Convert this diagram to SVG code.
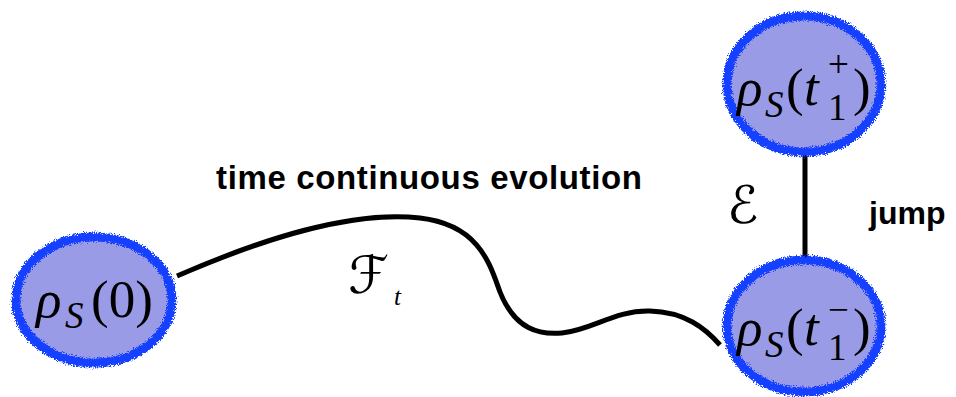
<svg xmlns="http://www.w3.org/2000/svg" width="956" height="397" viewBox="0 0 956 397">
  <style>
    .fill { fill: #999be6; stroke: none; }
    .rim { fill: none; stroke: #1340ff; stroke-width: 9; filter: url(#rough); }
    .lbl { font-family: "Liberation Serif", "Times New Roman", serif; font-size: 53px; fill: #000; }
    .it { font-style: italic; }
    .sub { font-size: 37px; }
    .small { font-size: 25px; }
    .bold { font-family: "Liberation Sans", Arial, sans-serif; font-weight: bold; fill: #000; }
    .script { font-family: "DejaVu Serif", "DejaVu Sans", serif; font-size: 52px; fill: #000; }
    .edge { fill: none; stroke: #000; stroke-width: 5; stroke-linecap: butt; }
  </style>
  <defs>
    <filter id="rough" x="-15%" y="-15%" width="130%" height="130%">
      <feTurbulence type="fractalNoise" baseFrequency="0.9" numOctaves="2" seed="4" result="n"/>
      <feDisplacementMap in="SourceGraphic" in2="n" scale="7" xChannelSelector="R" yChannelSelector="G"/>
    </filter>
  </defs>
  <rect width="956" height="397" fill="#fff"/>

  <g id="connectors">
    <path class="edge" d="M177,276 C260,240 350,210 420,218 C480,225 490,265 500,292 C515,330 540,335 562,333 C592,330 615,310 650,311 C685,312 705,328 720,345"/>
    <line class="edge" x1="805" y1="152" x2="805" y2="260"/>
  </g>

  <g id="node-rho0">
    <ellipse class="fill" cx="94" cy="300" rx="80" ry="65"/>
    <ellipse class="rim" cx="94" cy="300" rx="78" ry="63"/>
    <text class="lbl" y="317"><tspan class="it" x="36">ρ</tspan><tspan class="it sub" x="65" y="328">S</tspan><tspan x="91" y="317">(0)</tspan></text>
  </g>

  <g id="node-rho-plus">
    <ellipse class="fill" cx="804" cy="84" rx="79" ry="70"/>
    <ellipse class="rim" cx="804" cy="84" rx="77" ry="68"/>
    <text class="lbl" y="105"><tspan class="it" x="737">ρ</tspan><tspan class="it sub" x="765" y="117">S</tspan><tspan x="786" y="105">(</tspan><tspan class="it" x="804">t</tspan><tspan class="sub" x="828" y="120">1</tspan><tspan class="sub" x="828" y="77">+</tspan><tspan x="853" y="105">)</tspan></text>
  </g>

  <g id="node-rho-minus">
    <ellipse class="fill" cx="804" cy="326" rx="79" ry="68"/>
    <ellipse class="rim" cx="804" cy="326" rx="77" ry="66"/>
    <text class="lbl" y="345"><tspan class="it" x="737">ρ</tspan><tspan class="it sub" x="765" y="357">S</tspan><tspan x="786" y="345">(</tspan><tspan class="it" x="804">t</tspan><tspan class="sub" x="828" y="360">1</tspan><tspan class="sub" x="828" y="322">−</tspan><tspan x="853" y="345">)</tspan></text>
  </g>

  <g id="labels">
    <text class="bold" x="216" y="189" font-size="33" textLength="426" lengthAdjust="spacing">time continuous evolution</text>
    <text class="bold" x="869" y="224" font-size="32">jump</text>
    <text class="script" x="348" y="293">ℱ</text>
    <text class="lbl it small" x="394" y="305">t</text>
    <text class="script" x="727" y="223">ℰ</text>
  </g>
</svg>
